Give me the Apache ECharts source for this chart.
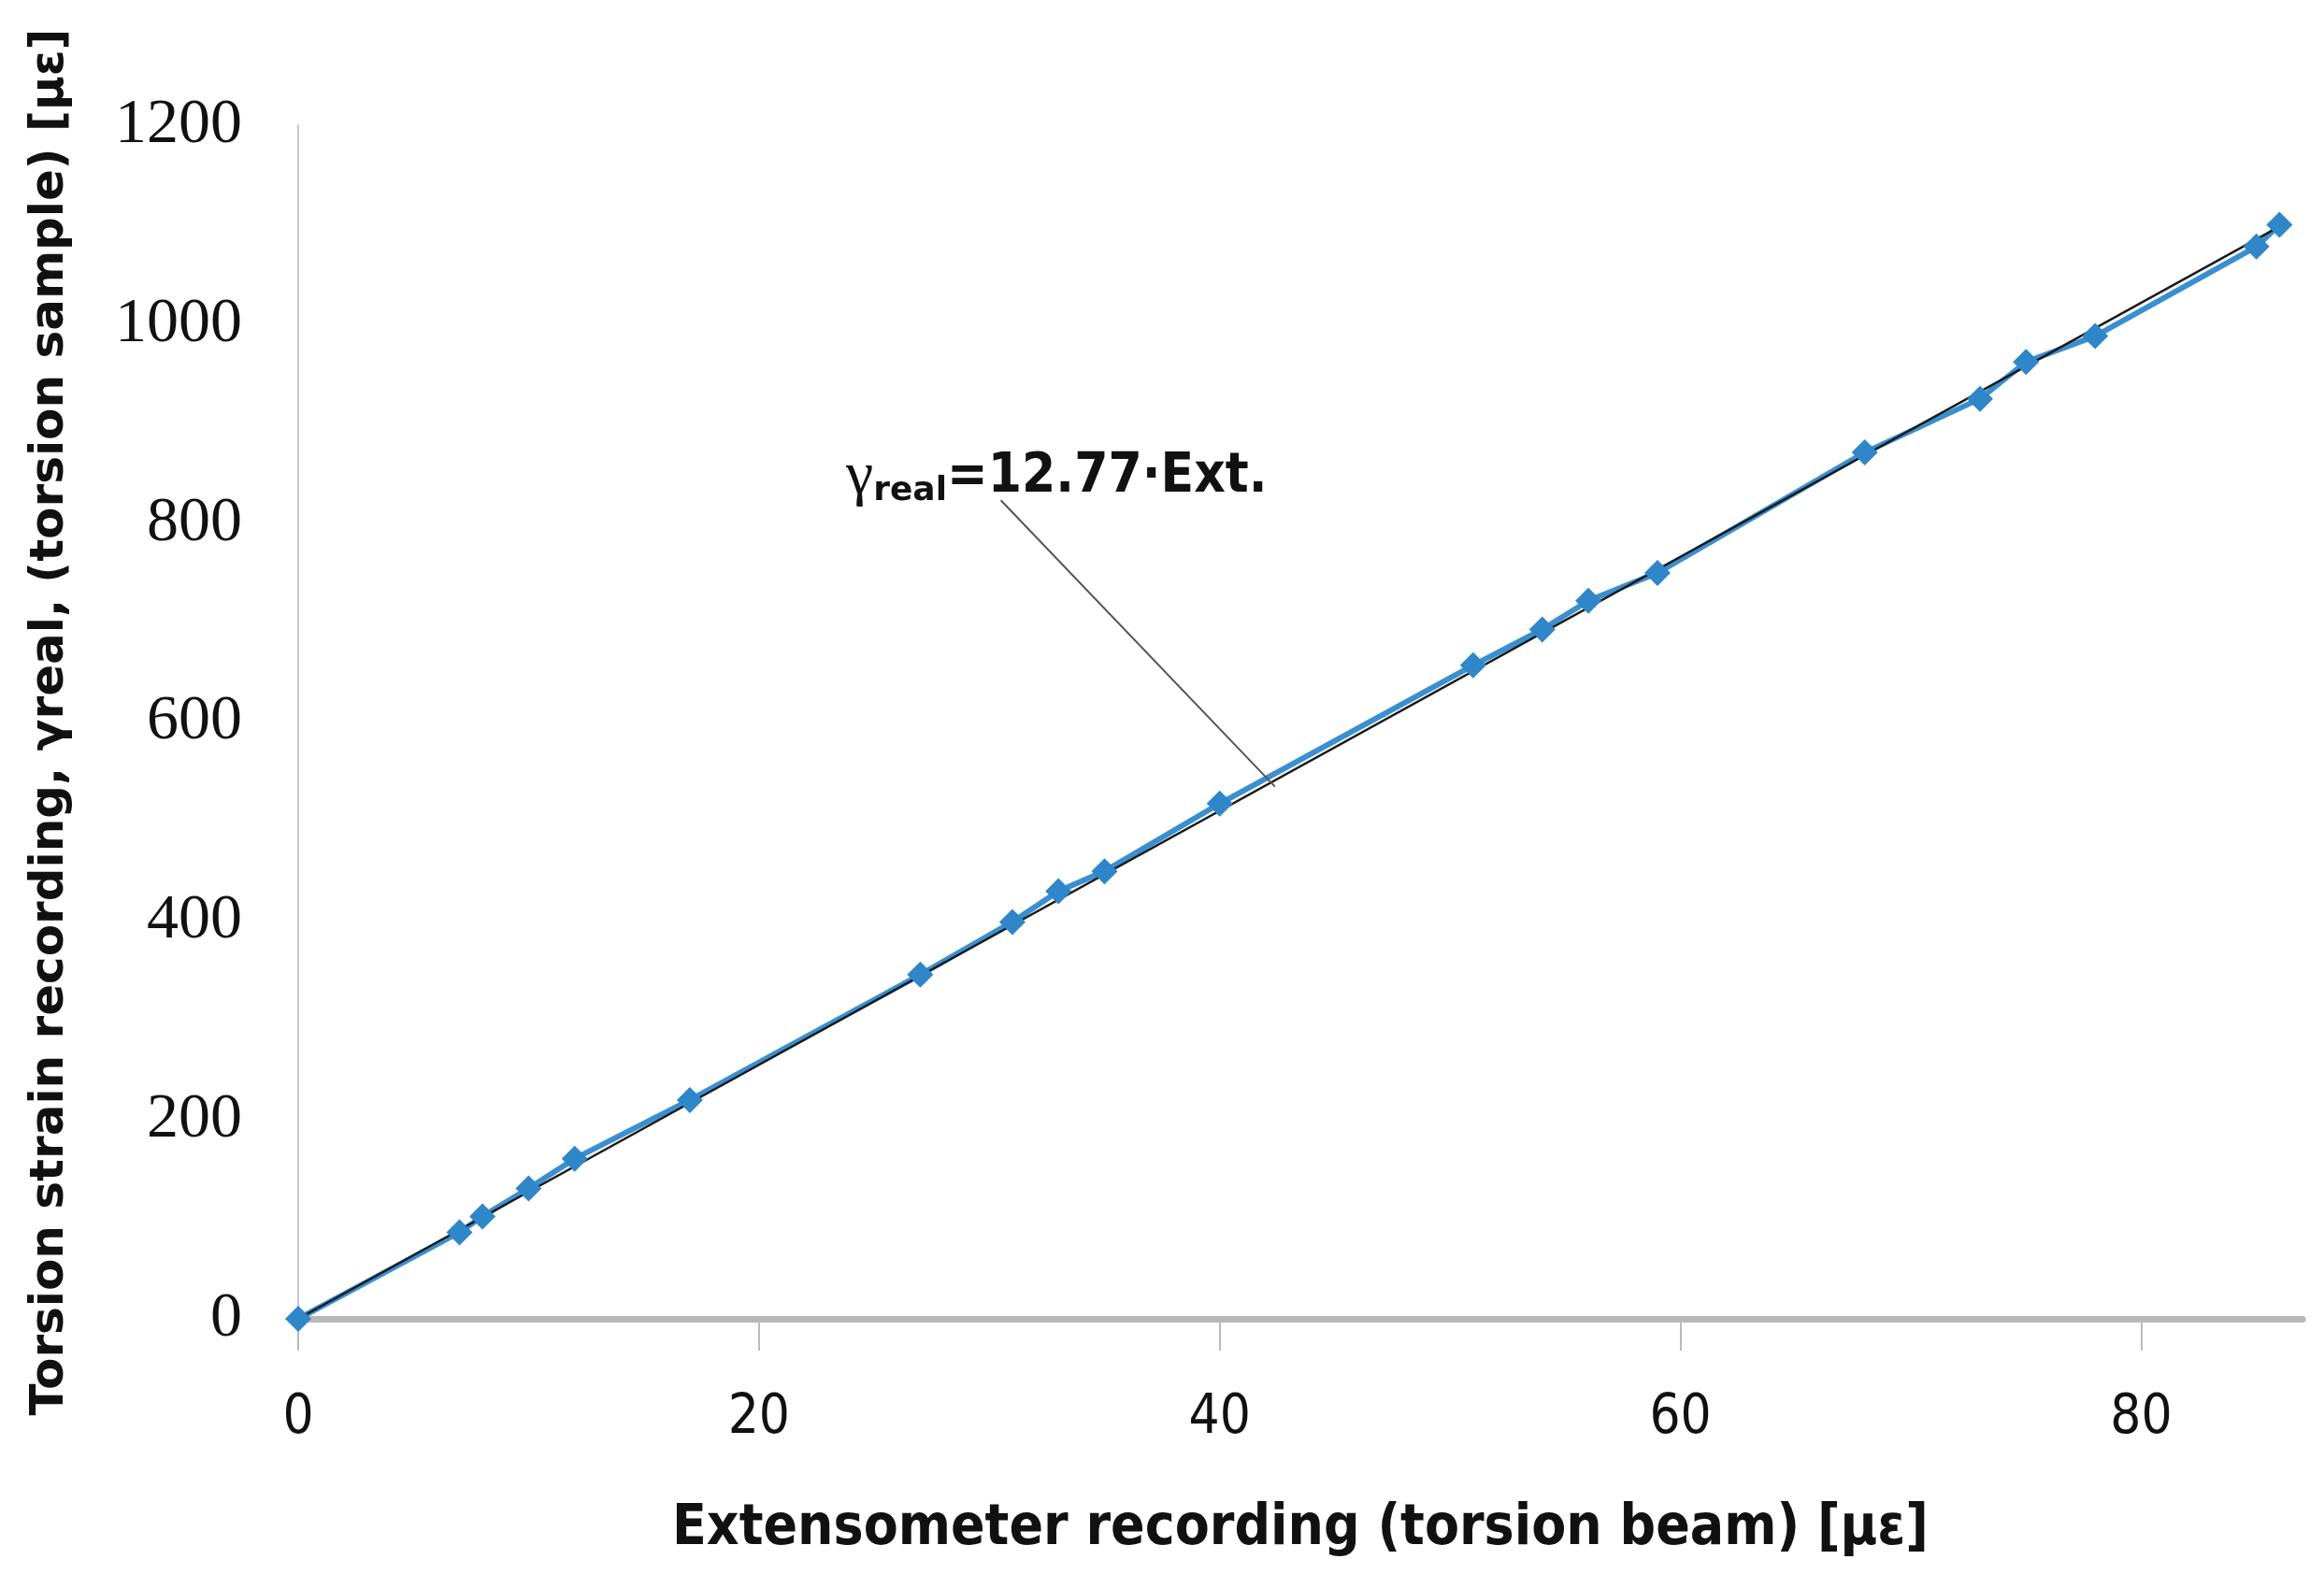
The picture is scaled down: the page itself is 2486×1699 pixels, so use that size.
<!DOCTYPE html>
<html lang="en">
<head>
<meta charset="UTF-8">
<title>Torsion calibration</title>
<style>
  html, body { margin: 0; padding: 0; background: #fff; }
  #chart { width: 2486px; height: 1699px; }
</style>
</head>
<body>
<div id="chart"></div>
<script src="https://cdn.jsdelivr.net/npm/echarts@6/dist/echarts.min.js"></script>
<script>
// measured points: extensometer vs torsion strain
const extValues = [0, 7, 8, 10, 12, 17, 27, 31, 33, 35, 40, 51, 54, 56, 59, 68, 73, 75, 78, 85, 86];
const strainValues = [0, 87, 103, 131, 161, 220, 346, 399, 430, 450, 518, 657, 693, 722, 750, 871, 925, 962, 988, 1078, 1100];
const slope = 12.77;
const trendX = [0, 86];

let chart = echarts.init(document.getElementById('chart'));

let points = extValues.map((x, i) => [x, strainValues[i]]);
let trend = trendX.map(x => [x, slope * x]);

let option = {
    animation: false,
    grid: { left: 319, right: 23, top: 134, bottom: 288 },
    xAxis: {
        type: 'value', min: 0, max: 87, interval: 20,
        name: 'Extensometer recording (torsion beam) [με]',
        nameLocation: 'middle', nameGap: 195,
        nameTextStyle: { fontFamily: 'DejaVu Sans Condensed', fontWeight: 'bold', fontSize: 60, color: '#111' },
        axisLine: { lineStyle: { color: '#b8b8b8', width: 7 } },
        axisTick: { show: true, length: 34, lineStyle: { color: '#bbb', width: 2 } },
        axisLabel: { fontFamily: 'DejaVu Sans Condensed', fontSize: 58, color: '#111', margin: 78,
            showMaxLabel: false },
        splitLine: { show: false }
    },
    yAxis: {
        type: 'value', min: 0, max: 1200, interval: 200,
        name: 'Torsion strain recording, γreal, (torsion sample) [με]',
        nameLocation: 'middle', nameGap: 240,
        nameTextStyle: { fontFamily: 'DejaVu Sans', fontWeight: 'bold', fontSize: 50, color: '#111' },
        axisLine: { show: true, lineStyle: { color: '#c8c8c8', width: 2 } },
        axisTick: { show: false },
        axisLabel: { fontFamily: 'Liberation Serif', fontSize: 68, color: '#111', margin: 60,
            formatter: v => String(v) },
        splitLine: { show: false }
    },
    series: [
        {
            type: 'line', data: points,
            symbol: 'diamond', symbolSize: 28,
            itemStyle: { color: '#2f86c8' },
            lineStyle: { color: '#3a8fd0', width: 6 }
        },
        {
            type: 'line', data: trend, symbol: 'none',
            lineStyle: { color: '#1a1a1a', width: 2.5 },
            markLine: {
                symbol: 'none', silent: true,
                lineStyle: { color: '#555', width: 2, type: 'solid' },
                label: { show: false },
                data: [[{ coord: [30.5, 823] }, { coord: [42.4, 535] }]]
            }
        }
    ],
    graphic: [{
        type: 'text', left: 905, top: 478,
        style: {
            rich: {
                g: { fontFamily: 'Liberation Serif', fontSize: 66, fill: '#111' },
                s: { fontFamily: 'DejaVu Sans', fontWeight: 'bold', fontSize: 36, fill: '#111', verticalAlign: 'bottom', padding: [24, 0, 0, 0] },
                t: { fontFamily: 'DejaVu Sans Condensed', fontWeight: 'bold', fontSize: 58, fill: '#111' }
            },
            text: '{g|γ}{s|real}{t|=12.77·Ext.}'
        }
    }]
};

chart.setOption(option);
</script>
</body>
</html>
